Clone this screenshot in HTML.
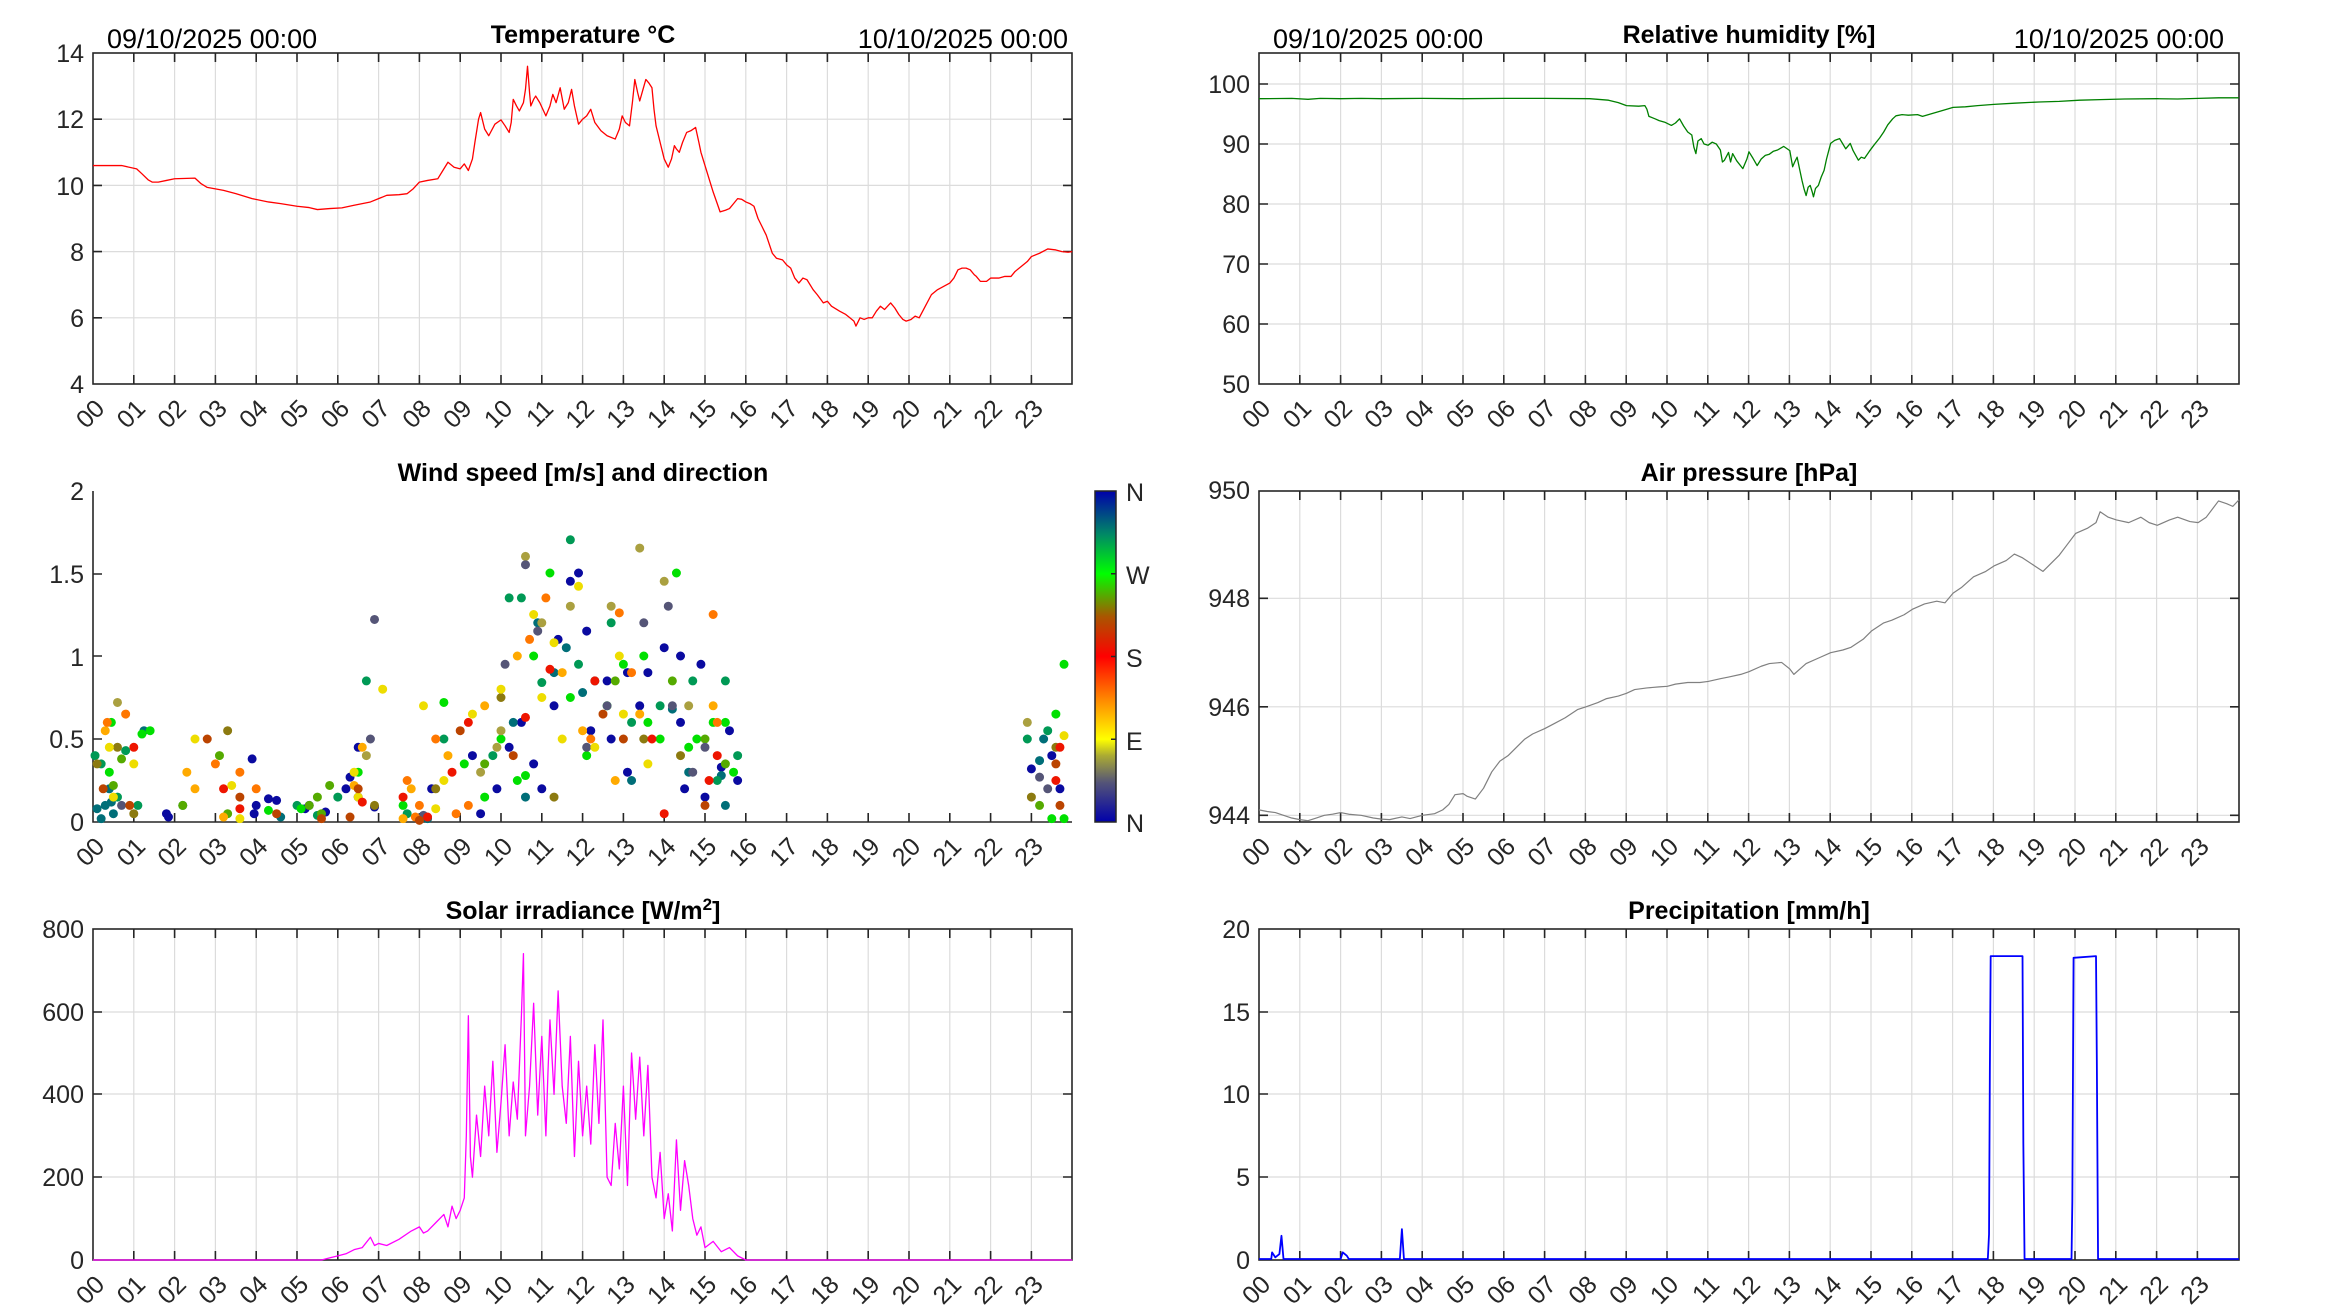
<!DOCTYPE html>
<html><head><meta charset="utf-8"><style>
html,body{margin:0;padding:0;background:#fff;}
svg{display:block;font-family:"Liberation Sans",sans-serif;}
.tl{font-size:25px;fill:#262626;}
.tt{font-size:25px;font-weight:bold;fill:#000;}
.dt{font-size:27px;fill:#000;}
.ax{fill:none;stroke:#262626;stroke-width:1.6;}
.gr{fill:none;stroke:#dcdcdc;stroke-width:1.2;}
.ln{fill:none;vector-effect:non-scaling-stroke;stroke-linejoin:round;}
.dot{fill:none;stroke-width:9;stroke-linecap:round;vector-effect:non-scaling-stroke;}
</style></head><body>
<svg width="2333" height="1313" viewBox="0 0 2333 1313" xmlns="http://www.w3.org/2000/svg">
<defs>
<path id="vg" class="gr" d="M40.8 0V331M81.6 0V331M122.4 0V331M163.2 0V331M204 0V331M244.8 0V331M285.6 0V331M326.4 0V331M367.2 0V331M408 0V331M448.8 0V331M489.6 0V331M530.4 0V331M571.2 0V331M612 0V331M652.8 0V331M693.6 0V331M734.4 0V331M775.2 0V331M816 0V331M856.8 0V331M897.6 0V331M938.4 0V331"/>
<path id="xt" class="ax" d="M40.8 331v-9M81.6 331v-9M122.4 331v-9M163.2 331v-9M204 331v-9M244.8 331v-9M285.6 331v-9M326.4 331v-9M367.2 331v-9M408 331v-9M448.8 331v-9M489.6 331v-9M530.4 331v-9M571.2 331v-9M612 331v-9M652.8 331v-9M693.6 331v-9M734.4 331v-9M775.2 331v-9M816 331v-9M856.8 331v-9M897.6 331v-9M938.4 331v-9"/>
<path id="xtt" class="ax" d="M40.8 0v9M81.6 0v9M122.4 0v9M163.2 0v9M204 0v9M244.8 0v9M285.6 0v9M326.4 0v9M367.2 0v9M408 0v9M448.8 0v9M489.6 0v9M530.4 0v9M571.2 0v9M612 0v9M652.8 0v9M693.6 0v9M734.4 0v9M775.2 0v9M816 0v9M856.8 0v9M897.6 0v9M938.4 0v9"/>
<linearGradient id="cb" x1="0" y1="1" x2="0" y2="0">
<stop offset="0" stop-color="#0000aa"/><stop offset="0.12" stop-color="#555577"/><stop offset="0.2" stop-color="#aaaa33"/><stop offset="0.25" stop-color="#ffff00"/><stop offset="0.37" stop-color="#ff8800"/><stop offset="0.5" stop-color="#ff0000"/><stop offset="0.62" stop-color="#aa5500"/><stop offset="0.75" stop-color="#00ff00"/><stop offset="0.87" stop-color="#008866"/><stop offset="1" stop-color="#0000aa"/>
</linearGradient>
<g id="xl" class="tl" text-anchor="end">
<text transform="translate(0,0) rotate(-45)">00</text><text transform="translate(40.8,0) rotate(-45)">01</text><text transform="translate(81.6,0) rotate(-45)">02</text><text transform="translate(122.4,0) rotate(-45)">03</text><text transform="translate(163.2,0) rotate(-45)">04</text><text transform="translate(204,0) rotate(-45)">05</text><text transform="translate(244.8,0) rotate(-45)">06</text><text transform="translate(285.6,0) rotate(-45)">07</text><text transform="translate(326.4,0) rotate(-45)">08</text><text transform="translate(367.2,0) rotate(-45)">09</text><text transform="translate(408,0) rotate(-45)">10</text><text transform="translate(448.8,0) rotate(-45)">11</text><text transform="translate(489.6,0) rotate(-45)">12</text><text transform="translate(530.4,0) rotate(-45)">13</text><text transform="translate(571.2,0) rotate(-45)">14</text><text transform="translate(612,0) rotate(-45)">15</text><text transform="translate(652.8,0) rotate(-45)">16</text><text transform="translate(693.6,0) rotate(-45)">17</text><text transform="translate(734.4,0) rotate(-45)">18</text><text transform="translate(775.2,0) rotate(-45)">19</text><text transform="translate(816,0) rotate(-45)">20</text><text transform="translate(856.8,0) rotate(-45)">21</text><text transform="translate(897.6,0) rotate(-45)">22</text><text transform="translate(938.4,0) rotate(-45)">23</text>
</g>
</defs>

<!-- ============ TEMPERATURE ============ -->
<g transform="translate(93,53)">
<use href="#vg"/>
<path class="gr" d="M0 264.8H979M0 198.6H979M0 132.4H979M0 66.2H979"/>
<use href="#xt"/><use href="#xtt"/>
<path class="ax" d="M0 264.8h9M0 198.6h9M0 132.4h9M0 66.2h9M979 264.8h-9M979 198.6h-9M979 132.4h-9M979 66.2h-9"/>
<rect class="ax" x="0" y="0" width="979" height="331"/>
</g>
<polyline class="ln" stroke="#ff0000" stroke-width="1.3" transform="translate(93,384) scale(40.8,-33.1) translate(0,-4)" points="0,10.6 0.7,10.6 1.07,10.5 1.2,10.35 1.35,10.17 1.45,10.1 1.6,10.1 1.8,10.15 2.0,10.2 2.5,10.22 2.65,10.05 2.8,9.94 3.2,9.85 3.5,9.75 3.9,9.6 4.3,9.5 4.6,9.45 5.0,9.37 5.3,9.33 5.5,9.27 5.8,9.3 6.1,9.32 6.4,9.4 6.8,9.5 7.0,9.6 7.2,9.7 7.5,9.72 7.7,9.75 7.85,9.9 8.0,10.1 8.2,10.15 8.45,10.2 8.6,10.5 8.7,10.7 8.85,10.55 9.0,10.5 9.1,10.65 9.2,10.45 9.3,10.8 9.36,11.3 9.45,12.0 9.5,12.2 9.6,11.7 9.7,11.5 9.85,11.85 10.0,11.98 10.1,11.8 10.2,11.6 10.25,11.9 10.3,12.6 10.38,12.4 10.45,12.25 10.55,12.5 10.6,12.9 10.65,13.6 10.7,12.8 10.73,12.4 10.8,12.6 10.85,12.7 10.95,12.5 11.1,12.1 11.2,12.4 11.27,12.75 11.35,12.5 11.45,12.95 11.55,12.3 11.65,12.5 11.73,12.9 11.8,12.4 11.9,11.85 12.0,12.0 12.1,12.1 12.2,12.3 12.3,11.9 12.45,11.65 12.6,11.5 12.8,11.4 12.9,11.7 12.97,12.1 13.05,11.9 13.15,11.8 13.22,12.5 13.28,13.2 13.35,12.8 13.4,12.55 13.48,12.9 13.55,13.2 13.62,13.1 13.7,12.95 13.75,12.3 13.8,11.8 13.9,11.3 14.0,10.8 14.1,10.55 14.18,10.8 14.25,11.2 14.3,11.1 14.37,11.0 14.45,11.3 14.55,11.6 14.65,11.65 14.77,11.75 14.85,11.3 14.9,11.0 15.0,10.6 15.1,10.2 15.2,9.8 15.3,9.45 15.37,9.2 15.5,9.25 15.6,9.3 15.7,9.45 15.8,9.6 15.9,9.58 16.0,9.5 16.1,9.45 16.2,9.37 16.3,9.0 16.4,8.75 16.5,8.5 16.65,7.95 16.75,7.8 16.9,7.75 17.0,7.6 17.1,7.5 17.2,7.2 17.3,7.05 17.4,7.2 17.5,7.15 17.65,6.85 17.75,6.7 17.9,6.45 18.0,6.5 18.1,6.35 18.3,6.2 18.45,6.1 18.55,6.0 18.65,5.9 18.7,5.75 18.8,6.0 18.9,5.95 19.0,6.0 19.1,6.0 19.2,6.2 19.3,6.35 19.4,6.25 19.55,6.45 19.65,6.3 19.75,6.1 19.85,5.95 19.93,5.9 20.05,5.95 20.15,6.05 20.25,6.0 20.4,6.35 20.55,6.7 20.7,6.85 21.0,7.05 21.1,7.2 21.2,7.45 21.3,7.5 21.4,7.5 21.5,7.45 21.6,7.3 21.65,7.25 21.75,7.1 21.9,7.1 22.0,7.2 22.2,7.2 22.35,7.25 22.5,7.25 22.6,7.4 22.75,7.55 22.9,7.7 23.0,7.85 23.2,7.95 23.4,8.08 23.6,8.05 23.75,8.0 23.9,7.98 24,8.0"/>
<g class="tl" text-anchor="end">
<text x="84" y="393">4</text><text x="84" y="327">6</text><text x="84" y="261">8</text><text x="84" y="195">10</text><text x="84" y="128">12</text><text x="84" y="62">14</text>
</g>
<text class="tt" x="583" y="43" text-anchor="middle">Temperature °C</text>
<text class="dt" x="107" y="48">09/10/2025 00:00</text>
<text class="dt" x="1068" y="48" text-anchor="end">10/10/2025 00:00</text>
<use href="#xl" transform="translate(106,410)"/>

<!-- ============ HUMIDITY ============ -->
<g transform="translate(1259,53)">
<use href="#vg"/>
<path class="gr" d="M0 271H980M0 211H980M0 151H980M0 91H980M0 31H980"/>
<use href="#xt"/><use href="#xtt"/>
<path class="ax" d="M0 271h9M0 211h9M0 151h9M0 91h9M0 31h9M980 271h-9M980 211h-9M980 151h-9M980 91h-9M980 31h-9"/>
<rect class="ax" x="0" y="0" width="980" height="331"/>
</g>
<polyline class="ln" stroke="#008000" stroke-width="1.3" transform="translate(1259,384) scale(40.83,-6.0) translate(0,-50)" points="0,97.55 0.8,97.6 1.2,97.45 1.5,97.6 2.0,97.55 2.5,97.6 3.0,97.55 4.0,97.6 5.0,97.55 6.0,97.6 7.0,97.6 8.1,97.55 8.56,97.3 8.8,96.9 9.0,96.4 9.3,96.3 9.45,96.4 9.5,95.8 9.55,94.6 9.7,94.2 9.8,93.9 9.95,93.6 10.1,93.1 10.2,93.5 10.3,94.2 10.4,93.0 10.5,92.0 10.6,91.5 10.65,89.5 10.7,88.4 10.75,90.5 10.83,90.9 10.9,90.0 11.0,89.8 11.1,90.3 11.2,90.0 11.3,89.0 11.35,87.0 11.4,87.3 11.5,88.6 11.55,87.0 11.6,88.4 11.7,87.2 11.85,85.9 11.95,87.5 12.0,88.7 12.1,87.6 12.2,86.4 12.3,87.5 12.4,88.1 12.5,88.3 12.6,88.8 12.7,89.0 12.85,89.6 13.0,88.9 13.07,86.2 13.12,87.0 13.18,87.8 13.25,85.5 13.3,83.9 13.35,82.5 13.4,81.4 13.45,82.8 13.5,83.1 13.55,82.0 13.58,81.2 13.63,82.6 13.7,83.1 13.77,84.5 13.84,85.6 13.9,87.5 14.0,90.1 14.1,90.6 14.22,90.9 14.3,90.0 14.37,89.2 14.48,90.1 14.55,88.9 14.68,87.3 14.75,87.8 14.83,87.6 14.95,88.8 15.06,89.8 15.2,91.0 15.3,92.0 15.4,93.2 15.52,94.2 15.6,94.7 15.75,94.9 15.9,94.8 16.13,94.9 16.25,94.6 16.5,95.1 16.7,95.5 17.0,96.1 17.3,96.2 17.6,96.4 18.0,96.6 18.5,96.8 19.1,97.0 19.6,97.1 20.1,97.3 20.6,97.4 21.2,97.5 22.0,97.55 22.5,97.5 23.0,97.6 23.5,97.7 24,97.7"/>
<g class="tl" text-anchor="end">
<text x="1250" y="393">50</text><text x="1250" y="333">60</text><text x="1250" y="273">70</text><text x="1250" y="213">80</text><text x="1250" y="153">90</text><text x="1250" y="93">100</text>
</g>
<text class="tt" x="1749" y="43" text-anchor="middle">Relative humidity [%]</text>
<text class="dt" x="1273" y="48">09/10/2025 00:00</text>
<text class="dt" x="2224" y="48" text-anchor="end">10/10/2025 00:00</text>
<use href="#xl" transform="translate(1272,410)"/>

<!-- ============ WIND ============ -->
<g transform="translate(93,491)">
<use href="#xt"/>
<path class="ax" d="M0 0V331H979M0 248h9M0 165h9M0 83h9"/>
</g>
<g transform="translate(93,822) scale(40.8,-166)">
<path class="dot" stroke="#0a0aa0" d="M1.8 .05l0 0M1.85 .03l0 0M3.95 .05l0 0M4 .1l0 0M3.9 .38l0 0M4.3 .14l0 0M4.5 .13l0 0M5.2 .08l0 0M5.3 .1l0 0M5.7 .06l0 0M6.2 .2l0 0M6.3 .27l0 0M6.5 .45l0 0M6.5 .15l0 0M6.9 .09l0 0M8.3 .2l0 0M9.3 .4l0 0M9.5 .05l0 0M9.9 .2l0 0M10.2 .45l0 0M10.5 .6l0 0M10.8 .35l0 0M11 .2l0 0M11.3 .7l0 0M11.4 1.1l0 0M11.7 1.45l0 0M11.9 1.5l0 0M12.1 1.15l0 0M12.2 .55l0 0M12.6 .85l0 0M12.7 .5l0 0M13.1 .9l0 0M13.1 .3l0 0M13.4 .7l0 0M13.6 .9l0 0M14 1.05l0 0M14.4 1l0 0M14.4 .6l0 0M14.5 .2l0 0M14.9 .95l0 0M15 .15l0 0M15.4 .33l0 0M15.6 .55l0 0M15.8 .25l0 0M23 .32l0 0M23.5 .4l0 0M23.7 .2l0 0"/>
<path class="dot" stroke="#006e78" d="M.1 .08l0 0M.3 .1l0 0M.4 .2l0 0M.5 .05l0 0M1.25 .55l0 0M4.6 .03l0 0M8.2 .02l0 0M10.3 .6l0 0M10.6 .15l0 0M10.9 1.2l0 0M11.3 .9l0 0M11.6 1.05l0 0M12 .78l0 0M12.3 .85l0 0M13.2 .25l0 0M14.2 .68l0 0M14.6 .3l0 0M15.4 .28l0 0M15.5 .1l0 0M23.2 .37l0 0M23.3 .5l0 0M.2 .02l0 0M.45 .12l0 0"/>
<path class="dot" stroke="#009955" d="M.05 .4l0 0M.2 .35l0 0M.6 .15l0 0M.8 .43l0 0M1.1 .1l0 0M2.2 .1l0 0M5.5 .04l0 0M6 .15l0 0M6.7 .85l0 0M7.7 .05l0 0M8.6 .5l0 0M9.8 .4l0 0M10.2 1.35l0 0M10.5 1.35l0 0M11 .84l0 0M11.7 1.7l0 0M11.9 .95l0 0M12.7 1.2l0 0M13.2 .6l0 0M13.9 .7l0 0M14.7 .85l0 0M15.3 .25l0 0M15.5 .85l0 0M15.8 .4l0 0M22.9 .5l0 0M23.4 .55l0 0M5 .1l0 0"/>
<path class="dot" stroke="#00e000" d="M.4 .3l0 0M.45 .6l0 0M1.2 .53l0 0M1.4 .55l0 0M4.3 .07l0 0M5.1 .08l0 0M6.5 .3l0 0M7.6 .1l0 0M8.6 .72l0 0M9.1 .35l0 0M9.6 .15l0 0M10 .5l0 0M10.4 .25l0 0M10.8 1l0 0M11.2 1.5l0 0M11.7 .75l0 0M12.1 .4l0 0M12.6 .7l0 0M13 .95l0 0M13.5 1l0 0M13.6 .6l0 0M13.9 .5l0 0M14.3 1.5l0 0M14.6 .45l0 0M14.8 .5l0 0M15.2 .6l0 0M15.5 .6l0 0M15.7 .3l0 0M23.6 .65l0 0M23.8 .95l0 0M23.8 .02l0 0M23.5 .02l0 0M10.6 .28l0 0"/>
<path class="dot" stroke="#55aa00" d="M.5 .22l0 0M.7 .38l0 0M2.2 .1l0 0M3.1 .4l0 0M5.3 .1l0 0M5.6 .05l0 0M5.8 .22l0 0M9.6 .35l0 0M12.8 .85l0 0M14.2 .85l0 0M15 .5l0 0M15.5 .35l0 0M23.2 .1l0 0M5.5 .15l0 0M3.3 .05l0 0"/>
<path class="dot" stroke="#8c7a10" d="M.1 .35l0 0M.6 .45l0 0M3.3 .55l0 0M6.9 .1l0 0M8.4 .2l0 0M10 .75l0 0M11.3 .15l0 0M13.5 .5l0 0M14.4 .4l0 0M23 .15l0 0M23.6 .45l0 0M1 .05l0 0"/>
<path class="dot" stroke="#aaa040" d="M.6 .72l0 0M6.7 .4l0 0M9.5 .3l0 0M10 .55l0 0M10.6 1.6l0 0M11 1.2l0 0M11.7 1.3l0 0M12.7 1.3l0 0M13.4 1.65l0 0M14 1.45l0 0M14.6 .7l0 0M22.9 .6l0 0M9.9 .45l0 0"/>
<path class="dot" stroke="#555577" d="M.7 .1l0 0M6.8 .5l0 0M6.9 1.22l0 0M10.1 .95l0 0M10.6 1.55l0 0M10.9 1.15l0 0M12.1 .45l0 0M12.6 .7l0 0M13.5 1.2l0 0M14.1 1.3l0 0M14.2 .7l0 0M14.7 .3l0 0M15 .45l0 0M23.2 .27l0 0M23.4 .2l0 0M8.1 .04l0 0"/>
<path class="dot" stroke="#eedd00" d="M.4 .45l0 0M.5 .15l0 0M1 .35l0 0M2.5 .5l0 0M3.4 .22l0 0M3.6 .02l0 0M6.4 .3l0 0M6.5 .15l0 0M7.1 .8l0 0M8.1 .7l0 0M8.6 .25l0 0M9.3 .65l0 0M10 .8l0 0M10.8 1.25l0 0M11 .75l0 0M11.3 1.08l0 0M11.5 .5l0 0M12.3 .45l0 0M12.9 1l0 0M13 .65l0 0M13.6 .35l0 0M23.8 .52l0 0M11.9 1.42l0 0M8.4 .08l0 0"/>
<path class="dot" stroke="#ffaa00" d="M.3 .55l0 0M2.3 .3l0 0M2.5 .2l0 0M3.2 .03l0 0M6.4 .22l0 0M6.6 .45l0 0M7.8 .2l0 0M8.7 .4l0 0M9.6 .7l0 0M10.4 1l0 0M11.5 .9l0 0M12 .55l0 0M12.8 .25l0 0M13.4 .65l0 0M15.2 .7l0 0M7.6 .02l0 0"/>
<path class="dot" stroke="#ff7700" d="M.35 .6l0 0M.8 .65l0 0M3 .35l0 0M3.6 .3l0 0M4 .2l0 0M7.7 .25l0 0M8 .1l0 0M8.4 .5l0 0M9.2 .1l0 0M10.7 1.1l0 0M11.1 1.35l0 0M12.2 .5l0 0M12.9 1.26l0 0M13.2 .9l0 0M15.2 1.25l0 0M15.3 .6l0 0M8.9 .05l0 0M7.9 .03l0 0"/>
<path class="dot" stroke="#ee1500" d="M1 .45l0 0M3.2 .2l0 0M3.6 .08l0 0M7.6 .15l0 0M8.2 .03l0 0M8.8 .3l0 0M9.2 .6l0 0M10.6 .63l0 0M11.2 .92l0 0M12.3 .85l0 0M13.7 .5l0 0M14 .05l0 0M15.1 .25l0 0M15.3 .4l0 0M23.7 .45l0 0M23.6 .25l0 0M6.6 .12l0 0"/>
<path class="dot" stroke="#bb4400" d="M.25 .2l0 0M.9 .1l0 0M2.8 .5l0 0M3.6 .15l0 0M4.5 .05l0 0M6.3 .03l0 0M6.5 .2l0 0M8 .01l0 0M9 .55l0 0M10.3 .4l0 0M12.5 .65l0 0M13 .5l0 0M15 .1l0 0M23.7 .1l0 0M23.6 .35l0 0M5.6 .02l0 0"/>
</g>
<rect x="1095" y="491" width="21" height="331" fill="url(#cb)" stroke="#262626" stroke-width="1.5"/>
<path class="ax" d="M1116 573.75h-5M1116 656.5h-5M1116 739.25h-5"/>
<g class="tl">
<text x="1126" y="501">N</text><text x="1126" y="584">W</text><text x="1126" y="667">S</text><text x="1126" y="750">E</text><text x="1126" y="832">N</text>
</g>
<g class="tl" text-anchor="end">
<text x="84" y="831">0</text><text x="84" y="748">0.5</text><text x="84" y="666">1</text><text x="84" y="583">1.5</text><text x="84" y="500">2</text>
</g>
<text class="tt" x="583" y="481" text-anchor="middle">Wind speed [m/s] and direction</text>
<use href="#xl" transform="translate(106,848)"/>

<!-- ============ PRESSURE ============ -->
<g transform="translate(1259,491)">
<use href="#vg"/>
<path class="gr" d="M0 324.3H980M0 215.8H980M0 107.3H980"/>
<use href="#xt"/><use href="#xtt"/>
<path class="ax" d="M0 324.3h9M0 215.8h9M0 107.3h9M980 324.3h-9M980 215.8h-9M980 107.3h-9"/>
<rect class="ax" x="0" y="0" width="980" height="331"/>
</g>
<polyline class="ln" stroke="#808080" stroke-width="1.2" transform="translate(1259,815.3) scale(40.83,-54.2) translate(0,-944)" points="0,944.1 0.2,944.07 0.4,944.05 0.6,944.0 0.8,943.95 1.0,943.92 1.2,943.9 1.4,943.95 1.6,944.0 1.8,944.02 2.0,944.05 2.2,944.02 2.5,944.0 2.8,943.95 3.0,943.93 3.2,943.92 3.5,943.97 3.7,943.94 4.0,944.0 4.3,944.03 4.5,944.1 4.65,944.2 4.8,944.38 5.0,944.4 5.1,944.35 5.3,944.3 5.5,944.5 5.7,944.8 5.9,945.0 6.1,945.1 6.3,945.25 6.5,945.4 6.7,945.5 7.0,945.6 7.25,945.7 7.5,945.8 7.8,945.95 8.0,946.0 8.3,946.08 8.5,946.15 8.8,946.2 9.0,946.25 9.2,946.32 9.5,946.35 9.8,946.37 10.0,946.38 10.2,946.42 10.5,946.45 10.8,946.45 11.0,946.47 11.3,946.52 11.5,946.55 11.8,946.6 12.0,946.65 12.3,946.75 12.5,946.8 12.8,946.82 13.0,946.7 13.1,946.6 13.25,946.7 13.4,946.8 13.7,946.9 14.0,947.0 14.3,947.05 14.5,947.1 14.8,947.25 15.0,947.4 15.3,947.55 15.5,947.6 15.8,947.7 16.0,947.8 16.3,947.9 16.6,947.95 16.8,947.92 17.0,948.1 17.2,948.2 17.5,948.4 17.8,948.5 18.0,948.6 18.3,948.7 18.5,948.82 18.7,948.75 19.0,948.6 19.2,948.5 19.4,948.65 19.6,948.8 19.8,949.0 20.0,949.2 20.3,949.3 20.5,949.4 20.6,949.6 20.8,949.5 21.0,949.45 21.3,949.4 21.6,949.5 21.8,949.4 22.0,949.35 22.3,949.45 22.5,949.5 22.8,949.42 23.0,949.4 23.2,949.5 23.5,949.8 23.7,949.75 23.85,949.7 24,949.82"/>
<g class="tl" text-anchor="end">
<text x="1250" y="824">944</text><text x="1250" y="716">946</text><text x="1250" y="607">948</text><text x="1250" y="499">950</text>
</g>
<text class="tt" x="1749" y="481" text-anchor="middle">Air pressure [hPa]</text>
<use href="#xl" transform="translate(1272,848)"/>

<!-- ============ SOLAR ============ -->
<g transform="translate(93,929)">
<use href="#vg"/>
<path class="gr" d="M0 248H979M0 165H979M0 83H979"/>
<use href="#xt"/><use href="#xtt"/>
<path class="ax" d="M0 248h9M0 165h9M0 83h9M979 248h-9M979 165h-9M979 83h-9"/>
<rect class="ax" x="0" y="0" width="979" height="331"/>
</g>
<polyline class="ln" stroke="#ff00ff" stroke-width="1.3" transform="translate(93,1260) scale(40.8,-0.414)" points="0,0 5.6,0 5.8,5 6.0,10 6.2,15 6.4,25 6.6,30 6.8,55 6.9,35 7.0,40 7.2,35 7.5,50 7.8,70 8.0,80 8.1,65 8.2,70 8.4,90 8.6,110 8.7,80 8.8,130 8.9,100 9.0,120 9.1,150 9.15,300 9.2,590 9.25,250 9.3,200 9.4,350 9.5,250 9.6,420 9.7,300 9.8,480 9.9,260 10.0,380 10.1,520 10.2,300 10.3,430 10.4,340 10.5,590 10.55,740 10.6,300 10.7,420 10.8,620 10.9,350 11.0,540 11.1,300 11.15,450 11.2,580 11.3,400 11.4,650 11.5,420 11.6,330 11.7,540 11.8,250 11.9,480 12.0,300 12.1,420 12.2,280 12.3,520 12.4,330 12.5,580 12.6,200 12.7,180 12.8,330 12.9,220 13.0,420 13.1,180 13.2,500 13.3,340 13.4,490 13.5,300 13.6,470 13.7,200 13.8,150 13.9,260 14.0,100 14.1,160 14.2,70 14.3,290 14.4,120 14.5,240 14.6,180 14.7,100 14.8,60 14.9,80 15.0,30 15.2,45 15.4,20 15.6,30 15.8,10 16.0,0 24,0"/>
<g class="tl" text-anchor="end">
<text x="84" y="1269">0</text><text x="84" y="1186">200</text><text x="84" y="1103">400</text><text x="84" y="1021">600</text><text x="84" y="938">800</text>
</g>
<text class="tt" x="583" y="919" text-anchor="middle">Solar irradiance [W/m<tspan dy="-9" font-size="17">2</tspan><tspan dy="9">]</tspan></text>
<use href="#xl" transform="translate(106,1286)"/>

<!-- ============ PRECIPITATION ============ -->
<g transform="translate(1259,929)">
<use href="#vg"/>
<path class="gr" d="M0 248H980M0 165H980M0 83H980"/>
<use href="#xt"/><use href="#xtt"/>
<path class="ax" d="M0 248h9M0 165h9M0 83h9M980 248h-9M980 165h-9M980 83h-9"/>
<rect class="ax" x="0" y="0" width="980" height="331"/>
</g>
<polyline class="ln" stroke="#0000ff" stroke-width="1.8" transform="translate(1259,1259) scale(40.83,-16.55)" points="0,0 0.3,0 0.32,0.4 0.4,0.1 0.5,0.3 0.55,1.4 0.6,0 2.0,0 2.05,0.4 2.15,0.2 2.2,0 3.45,0 3.5,1.8 3.55,0 17.85,0 17.88,1.5 17.9,11.4 17.92,18.3 18.7,18.3 18.72,7 18.75,0 19.9,0 19.92,3.5 19.95,18.2 20.5,18.3 20.52,12 20.55,0 24,0"/>
<g class="tl" text-anchor="end">
<text x="1250" y="1269">0</text><text x="1250" y="1186">5</text><text x="1250" y="1103">10</text><text x="1250" y="1021">15</text><text x="1250" y="938">20</text>
</g>
<text class="tt" x="1749" y="919" text-anchor="middle">Precipitation [mm/h]</text>
<use href="#xl" transform="translate(1272,1286)"/>
</svg>
</body></html>
